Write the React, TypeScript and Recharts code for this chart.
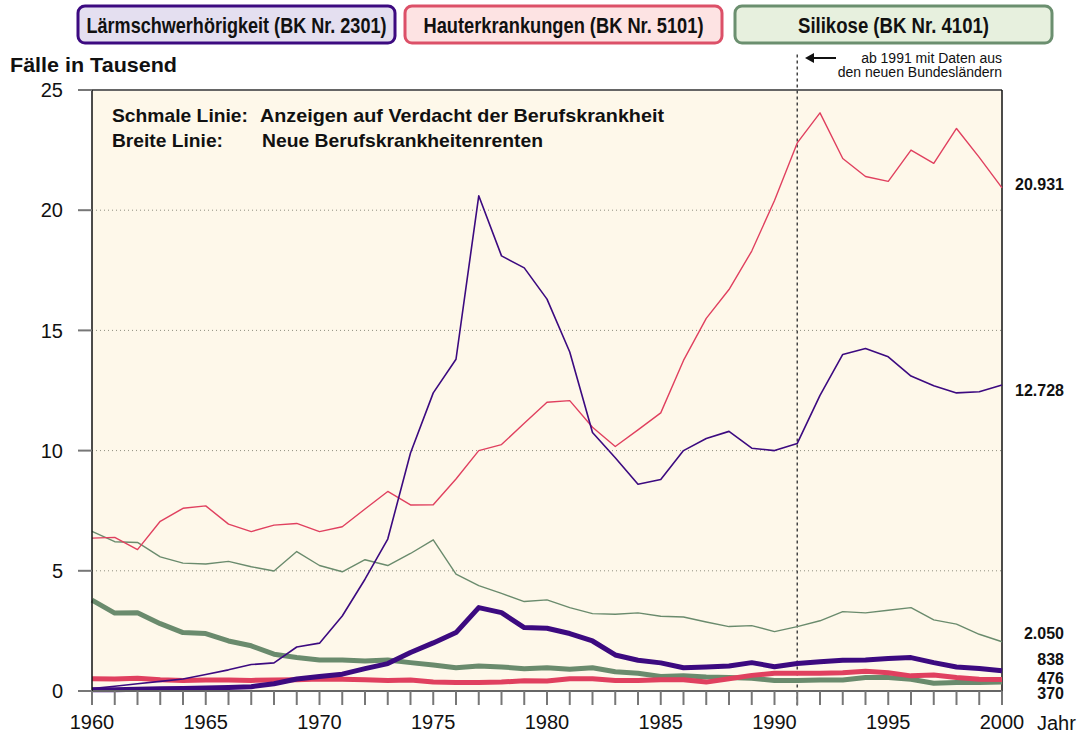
import {
    CartesianGrid,
    LabelList,
    Line,
    LineChart,
    ReferenceLine,
    XAxis,
    YAxis
} from 'recharts';

// Berufskrankheiten 1960-2000, Fälle in Tausend
const years = [
    1960, 1961, 1962, 1963, 1964, 1965, 1966, 1967, 1968, 1969,
    1970, 1971, 1972, 1973, 1974, 1975, 1976, 1977, 1978, 1979,
    1980, 1981, 1982, 1983, 1984, 1985, 1986, 1987, 1988, 1989,
    1990, 1991, 1992, 1993, 1994, 1995, 1996, 1997, 1998, 1999, 2000
];

// schmale Linien: Anzeigen auf Verdacht
const laermAnzeigen = [
    0.1, 0.2, 0.3, 0.4, 0.5, 0.69, 0.88, 1.1, 1.17, 1.83,
    1.99, 3.12, 4.65, 6.32, 9.9, 12.4, 13.8, 20.6, 18.1, 17.6,
    16.3, 14.1, 10.75, 9.7, 8.6, 8.8, 10.0, 10.5, 10.8, 10.1,
    10.0, 10.3, 12.3, 14.0, 14.25, 13.9, 13.1, 12.7, 12.4, 12.45, 12.728
];
const hautAnzeigen = [
    6.36, 6.39, 5.88, 7.06, 7.6, 7.7, 6.94, 6.63, 6.9, 6.97,
    6.63, 6.83, 7.57, 8.3, 7.74, 7.75, 8.82, 10.0, 10.25, 11.14,
    12.01, 12.08, 10.97, 10.17, 10.86, 11.57, 13.75, 15.5, 16.7, 18.3,
    20.4, 22.8, 24.05, 22.15, 21.4, 21.2, 22.5, 21.95, 23.4, 22.2, 20.931
];
const silikoseAnzeigen = [
    6.64, 6.21, 6.18, 5.58, 5.32, 5.28, 5.39, 5.17, 4.99, 5.8,
    5.22, 4.96, 5.46, 5.22, 5.72, 6.29, 4.86, 4.38, 4.06, 3.72,
    3.79, 3.47, 3.22, 3.19, 3.25, 3.11, 3.08, 2.87, 2.68, 2.72,
    2.47, 2.68, 2.92, 3.3, 3.25, 3.36, 3.47, 2.96, 2.78, 2.36, 2.05
];

// breite Linien: neue Renten
const laermRenten = [
    0.05, 0.05, 0.07, 0.09, 0.1, 0.12, 0.15, 0.18, 0.3, 0.5,
    0.6, 0.7, 0.93, 1.14, 1.6, 2.0, 2.43, 3.47, 3.26, 2.64,
    2.61, 2.39, 2.08, 1.5, 1.28, 1.17, 0.97, 1.0, 1.04, 1.18,
    1.01, 1.14, 1.22, 1.28, 1.29, 1.35, 1.39, 1.18, 1.0, 0.94, 0.838
];
const hautRenten = [
    0.51, 0.5, 0.53, 0.47, 0.44, 0.46, 0.46, 0.44, 0.46, 0.47,
    0.5, 0.49, 0.47, 0.44, 0.46, 0.37, 0.35, 0.35, 0.37, 0.43,
    0.42, 0.51, 0.51, 0.44, 0.44, 0.47, 0.47, 0.37, 0.51, 0.65,
    0.74, 0.74, 0.74, 0.76, 0.82, 0.76, 0.63, 0.67, 0.56, 0.49, 0.476
];
const silikoseRenten = [
    3.78, 3.24, 3.26, 2.8, 2.43, 2.39, 2.08, 1.88, 1.53, 1.39,
    1.29, 1.29, 1.25, 1.29, 1.18, 1.08, 0.97, 1.04, 1.0, 0.93,
    0.97, 0.9, 0.97, 0.8, 0.74, 0.6, 0.63, 0.58, 0.56, 0.53,
    0.44, 0.44, 0.46, 0.46, 0.56, 0.56, 0.49, 0.32, 0.35, 0.35, 0.37
];

const yTicks = [0, 5, 10, 15, 20, 25];

const PURPLE = '#3c0a80';
const RED = '#e0405f';
const GREEN = '#6a8b6d';
const FONT = '"Liberation Sans", Arial, sans-serif';

const data = years.map((year, i) => ({
    year,
    laermAnzeigen: laermAnzeigen[i],
    hautAnzeigen: hautAnzeigen[i],
    silikoseAnzeigen: silikoseAnzeigen[i],
    laermRenten: laermRenten[i],
    hautRenten: hautRenten[i],
    silikoseRenten: silikoseRenten[i],
}));

// vertical nudge of the end labels so they don't overlap
const labelShift: Record<string, number> = {
    hautAnzeigen: 2,
    laermAnzeigen: 11,
    silikoseAnzeigen: -3,
    laermRenten: -6,
    hautRenten: 4,
    silikoseRenten: 17,
};

const formatEnd = (v: number): string =>
    v >= 1 ? v.toFixed(3) : String(Math.round(v * 1000));

const endLabel = (key: string) => (props: any) => {
    const { x, y, index, value } = props;
    if (index !== years.length - 1) return null;
    return (
        <text
            x={x + 62}
            y={y + labelShift[key]}
            textAnchor="end"
            fontFamily={FONT}
            fontWeight="bold"
            fontSize={16}
            fill="#111"
        >
            {formatEnd(Number(value))}
        </text>
    );
};

const series = [
    { key: 'silikoseRenten', color: GREEN, width: 5 },
    { key: 'hautRenten', color: RED, width: 5 },
    { key: 'laermRenten', color: PURPLE, width: 5 },
    { key: 'silikoseAnzeigen', color: GREEN, width: 1.4 },
    { key: 'hautAnzeigen', color: RED, width: 1.4 },
    { key: 'laermAnzeigen', color: PURPLE, width: 1.6 },
];

const legendBoxes = [
    { text: 'Lärmschwerhörigkeit (BK Nr. 2301)', x: 78, w: 317, fill: '#e4dff0', stroke: PURPLE, tw: 300 },
    { text: 'Hauterkrankungen (BK Nr. 5101)', x: 405, w: 317, fill: '#fde3e3', stroke: '#dc5068', tw: 280 },
    { text: 'Silikose (BK Nr. 4101)', x: 735, w: 317, fill: '#e7f0de', stroke: '#6b8f6f', tw: 191 },
];

const Overlay = () => (
    <svg
        width={1085}
        height={737}
        style={{ position: 'absolute', left: 0, top: 0, pointerEvents: 'none' }}
        fontFamily={FONT}
    >
        {legendBoxes.map(b => (
            <g key={b.text}>
                <rect x={b.x} y={6} width={b.w} height={37} rx={7} fill={b.fill} stroke={b.stroke} strokeWidth={3} />
                <text x={b.x + b.w / 2} y={33} textAnchor="middle" fontSize={22} fontWeight="bold"
                    fill="#111" textLength={b.tw} lengthAdjust="spacingAndGlyphs">{b.text}</text>
            </g>
        ))}
        <text x={10} y={72} fontSize={21} fontWeight="bold" fill="#111" textLength={167}
            lengthAdjust="spacingAndGlyphs">Fälle in Tausend</text>

        <text x={112} y={122} fontSize={19} fontWeight="bold" fill="#111" textLength={136}
            lengthAdjust="spacingAndGlyphs">Schmale Linie:</text>
        <text x={260} y={122} fontSize={19} fontWeight="bold" fill="#111" textLength={404}
            lengthAdjust="spacingAndGlyphs">Anzeigen auf  Verdacht der Berufskrankheit</text>
        <text x={112} y={147} fontSize={19} fontWeight="bold" fill="#111" textLength={111}
            lengthAdjust="spacingAndGlyphs">Breite Linie:</text>
        <text x={262} y={147} fontSize={19} fontWeight="bold" fill="#111" textLength={281}
            lengthAdjust="spacingAndGlyphs">Neue Berufskrankheitenrenten</text>

        <line x1={812} y1={58} x2={836} y2={58} stroke="#111" strokeWidth={2} />
        <polygon points="805,58 814,53 814,63" fill="#111" />
        <text x={1002} y={63} textAnchor="end" fontSize={14} fill="#111">ab 1991 mit Daten aus</text>
        <text x={1002} y={77} textAnchor="end" fontSize={14} fill="#111">den neuen Bundesländern</text>

        <text x={1037} y={730} fontSize={20} fill="#111">Jahr</text>
    </svg>
);

export default function App() {
    return (
        <div style={{ position: 'absolute', left: 0, top: 0, width: 1085, height: 737, background: '#fff' }}>
            <LineChart
                width={1085}
                height={737}
                data={data}
                margin={{ top: 90, right: 83, bottom: 0, left: 0 }}
            >
                <CartesianGrid
                    vertical={false}
                    stroke="#8f8f80"
                    strokeDasharray="1 3"
                    fill="#fef8ea"
                    fillOpacity={1}
                />
                <XAxis
                    dataKey="year"
                    type="number"
                    domain={[1960, 2000]}
                    ticks={years}
                    interval={0}
                    height={46}
                    tickSize={14}
                    tickMargin={10}
                    tickFormatter={(v: number) => (v % 5 === 0 ? String(v) : '')}
                    tick={{ fontFamily: FONT, fontSize: 20, fill: '#111' }}
                    axisLine={{ stroke: '#666', strokeWidth: 2 }}
                    tickLine={{ stroke: '#777', strokeWidth: 2 }}
                />
                <YAxis
                    type="number"
                    domain={[0, 25]}
                    ticks={yTicks}
                    width={92}
                    tickSize={14}
                    tickMargin={15}
                    tick={{ fontFamily: FONT, fontSize: 20, fill: '#111' }}
                    axisLine={{ stroke: '#111', strokeWidth: 1.5 }}
                    tickLine={{ stroke: '#777', strokeWidth: 2 }}
                />
                <ReferenceLine y={25} stroke="#666" strokeWidth={2} />
                <ReferenceLine x={2000} stroke="#111" strokeWidth={1.5} />
                <ReferenceLine
                    segment={[{ x: 1991, y: -0.6 }, { x: 1991, y: 26.5 }]}
                    ifOverflow="visible"
                    stroke="#444"
                    strokeWidth={1.5}
                    strokeDasharray="3 3"
                />
                {series.map(s => (
                    <Line
                        key={s.key}
                        type="linear"
                        dataKey={s.key}
                        stroke={s.color}
                        strokeWidth={s.width}
                        strokeLinejoin="round"
                        dot={false}
                        activeDot={false}
                        isAnimationActive={false}
                    >
                        <LabelList dataKey={s.key} content={endLabel(s.key)} />
                    </Line>
                ))}
            </LineChart>
            <Overlay />
        </div>
    );
}
